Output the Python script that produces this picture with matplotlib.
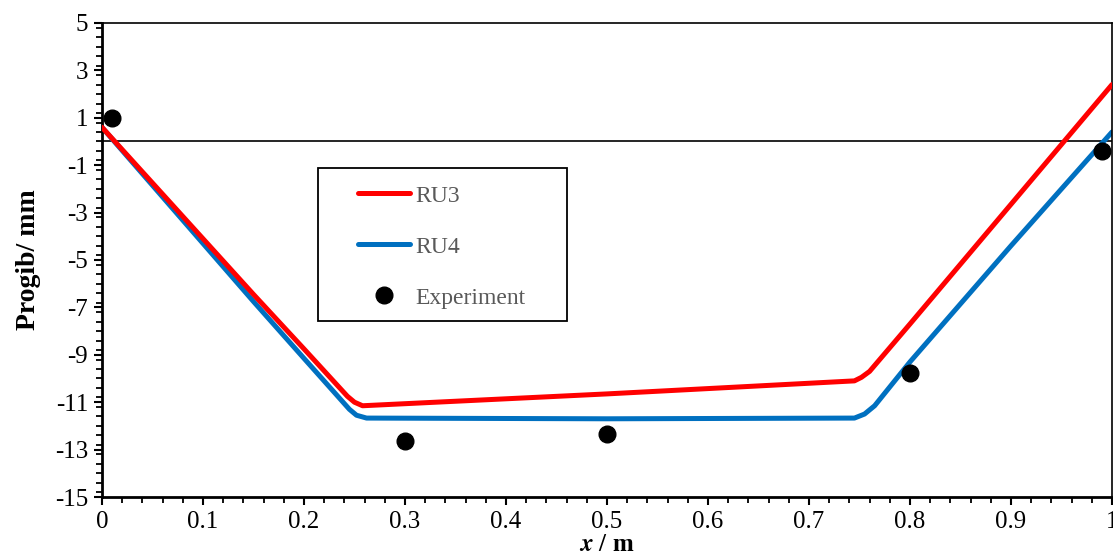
import numpy as np
import matplotlib
matplotlib.use('Agg')
from matplotlib import pyplot as plt
from matplotlib.ticker import MultipleLocator
from matplotlib.patches import Rectangle

plt.rcParams['font.family'] = 'Liberation Serif'
plt.rcParams['mathtext.fontset'] = 'stix'
plt.rcParams['axes.unicode_minus'] = False

# RU3 model
x_ru3 = [0, 0.05, 0.1, 0.15, 0.2, 0.243, 0.25, 0.258, 0.5, 0.745, 0.752, 0.76, 0.8, 0.9, 1.0]
y_ru3 = [0.6, -1.75, -4.1, -6.45, -8.75, -10.75, -11.0, -11.15, -10.65, -10.1, -9.95, -9.7, -7.7, -2.65, 2.4]

# RU4 model
x_ru4 = [0, 0.05, 0.1, 0.15, 0.2, 0.245, 0.252, 0.262, 0.5, 0.745, 0.755, 0.765, 0.8, 0.9, 1.0]
y_ru4 = [0.6, -1.85, -4.3, -6.75, -9.15, -11.3, -11.55, -11.67, -11.7, -11.67, -11.5, -11.15, -9.3, -4.4, 0.4]

# measurements
x_exp = [0.01, 0.3, 0.5, 0.8, 0.99]
y_exp = [1.0, -12.64, -12.34, -9.77, -0.4]

xticks = [0, 0.1, 0.2, 0.3, 0.4, 0.5, 0.6, 0.7, 0.8, 0.9, 1.0]
xticklabels = ['0', '0.1', '0.2', '0.3', '0.4', '0.5', '0.6', '0.7', '0.8', '0.9', '1']
yticks = [-15, -13, -11, -9, -7, -5, -3, -1, 1, 3, 5]

fig = plt.figure(figsize=(11.13, 5.55), dpi=100)
ax = fig.add_axes([0.0916, 0.1045, 0.9075, 0.8541])

ax.axhline(0, color='black', lw=1.2, zorder=1)
ax.plot(x_ru3, y_ru3, '-', color='#FF0000', lw=3.6, label='RU3', solid_capstyle='round', zorder=3)
ax.plot(x_ru4, y_ru4, '-', color='#0070C0', lw=3.6, label='RU4', solid_capstyle='round', zorder=2)
ax.plot(x_exp, y_exp, 'o', color='black', ms=12, label='Experiment', zorder=4)

ax.set_xlim(0, 1)
ax.set_ylim(-15, 5)
ax.set_xticks(xticks)
ax.set_xticklabels(xticklabels)
ax.xaxis.set_minor_locator(MultipleLocator(0.02))
ax.set_yticks(yticks)
ax.set_yticklabels([str(v) for v in yticks])
ax.yaxis.set_minor_locator(MultipleLocator(0.4))

ax.tick_params(which='major', direction='out', length=6, width=1.5, labelsize=18, pad=4)
ax.tick_params(which='minor', direction='out', length=4, width=1.3)
for s in ['left', 'bottom']:
    ax.spines[s].set_linewidth(2)
for s in ['top', 'right']:
    ax.spines[s].set_linewidth(1.2)

ax.set_ylabel('Progib/ mm', fontsize=20, fontweight='bold', labelpad=10)
ax.set_xlabel(r'$\mathbfit{x}$ / m', fontsize=18, fontweight='bold', labelpad=0)

# legend box drawn separately so the inner padding can match
ax.add_patch(Rectangle((0.2139, 0.371), 0.2465, 0.323, transform=ax.transAxes,
                       fill=True, facecolor='white', edgecolor='black', lw=1.3, zorder=5))
leg = ax.legend(loc='upper left', bbox_to_anchor=(0.2535, 0.658),
                borderaxespad=0, borderpad=0, frameon=False, fontsize=17,
                handlelength=2.2, handletextpad=0.25, labelspacing=1.25)
leg.set_zorder(6)
for t in leg.get_texts():
    t.set_color('#595959')

fig.savefig('out.png', dpi=100)
